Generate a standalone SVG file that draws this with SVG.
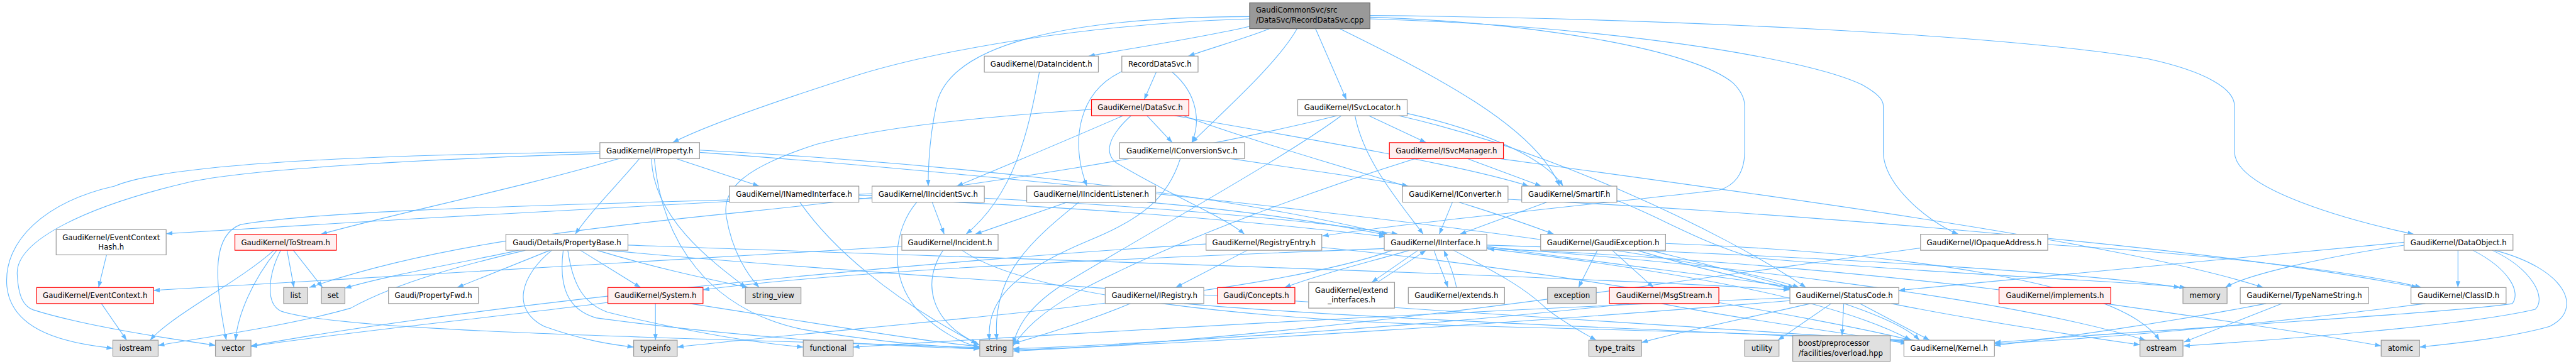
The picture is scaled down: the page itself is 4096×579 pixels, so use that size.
<svg xmlns="http://www.w3.org/2000/svg" width="4096" height="579" viewBox="0 0 4096 579">
<style>
rect{stroke-width:1.3}
.n rect{fill:#fff;stroke:#999}
.g rect{fill:#e0e0e0;stroke:#999}
.r rect{fill:#fff0f0;stroke:#f00}
.rt rect{fill:#999;stroke:#666}
text{font-family:"DejaVu Sans","Liberation Sans",sans-serif;font-size:12.9px;fill:#000;text-anchor:middle}
text.l{text-anchor:start}
#edges path{fill:none;stroke:#63b8ff;stroke-width:1.2;marker-end:url(#ah)}
</style>
<defs>
<marker id="ah" viewBox="0 0 11 8" refX="11" refY="4" markerWidth="11" markerHeight="8" orient="auto" markerUnits="userSpaceOnUse"><path d="M0,0L11,4L0,8z" fill="#63b8ff" stroke="none"/></marker>
</defs>
<rect width="4096" height="579" fill="#fff"/>
<g transform="scale(0.91103)">
<g id="edges">
<path d="M2181,46 C2100,65 1970,85 1900,98"/>
<path d="M2216,50 C2180,65 2110,85 2074,98"/>
<path d="M2264,50 C2230,110 2140,190 2080,249"/>
<path d="M2181,29 C1850,30 1660,80 1635,180 C1622,240 1620,290 1620,325"/>
<path d="M2181,33 C1900,42 1650,85 1500,130 C1350,178 1230,220 1174,249"/>
<path d="M2296,50 L2350,174"/>
<path d="M2338,50 C2500,130 2680,220 2722,325"/>
<path d="M2391,27 C2900,32 3500,60 3750,103 C3850,125 3900,155 3900,185 L3900,265 C3900,330 4100,385 4213,409"/>
<path d="M2391,33 C2800,45 3150,100 3250,148 C3280,165 3287,175 3287,185 L3287,265 C3287,320 3360,385 3418,409"/>
<path d="M2391,30 C2700,40 2960,90 3025,145 C3040,160 3045,175 3045,185 L3045,265 C3045,305 3025,325 3000,332 C2750,360 2450,390 2308,412"/>
<path d="M1814,126 C1795,230 1770,340 1686,409"/>
<path d="M2018,126 L1997,174"/>
<path d="M2046,126 C2092,165 2095,215 2080,249"/>
<path d="M1960,124 C1880,160 1868,250 1897,325"/>
<path d="M2002,202 L2046,249"/>
<path d="M1960,202 C1850,250 1730,300 1670,325"/>
<path d="M1974,202 C1932,240 1928,268 1948,284 C2040,340 2140,380 2172,409"/>
<path d="M2050,202 C2300,245 2560,290 2668,325"/>
<path d="M1905,191 C1700,205 1540,222 1425,252 C1300,292 1258,330 1268,380 C1278,440 1305,480 1325,502"/>
<path d="M2065,202 C2250,270 2560,350 2712,409"/>
<path d="M1180,277 L1325,325"/>
<path d="M1116,277 C1080,320 1030,370 1004,409"/>
<path d="M1080,277 C900,330 700,370 560,409"/>
<path d="M1137,277 C1140,380 1240,455 1302,502"/>
<path d="M1142,277 C1155,420 1235,540 1400,575 C1550,600 1650,606 1710,608"/>
<path d="M1047,265 C700,270 300,282 200,325 C80,352 5,420 12,500 C20,580 120,600 197,608"/>
<path d="M1047,268 C800,276 450,292 330,318 C150,360 28,420 30,478 C32,520 42,535 58,541 C150,570 300,592 376,603"/>
<path d="M1221,262 C1600,282 2100,330 2422,409"/>
<path d="M1221,266 C1700,300 2900,420 3140,502"/>
<path d="M478,437 C420,490 300,550 262,594"/>
<path d="M483,437 C440,490 415,550 411,594"/>
<path d="M501,437 L513,502"/>
<path d="M512,437 L563,502"/>
<path d="M490,437 C468,480 463,530 490,543 C600,582 1300,592 1710,607"/>
<path d="M186,445 L172,502"/>
<path d="M177,530 L221,594"/>
<path d="M1522,338 C1200,355 700,382 290,408"/>
<path d="M1522,341 C1100,356 600,362 420,392 C372,410 372,480 395,594"/>
<path d="M1627,353 L1648,409"/>
<path d="M1600,353 C1560,400 1550,480 1600,540 C1640,580 1680,600 1710,606"/>
<path d="M1718,346 C2000,360 2300,385 2440,409"/>
<path d="M1863,353 L1702,409"/>
<path d="M1883,353 C1800,420 1730,480 1740,594"/>
<path d="M2002,353 C2200,370 2330,392 2418,410"/>
<path d="M1574,430 C1200,450 600,490 268,507"/>
<path d="M1646,437 C1610,490 1620,560 1706,600"/>
<path d="M1679,437 C1800,520 2200,560 2600,570 C3000,580 3250,590 3340,594"/>
<path d="M2177,437 L2052,502"/>
<path d="M2105,426 C1700,450 900,520 438,604"/>
<path d="M2307,432 C2700,470 3200,560 3335,594"/>
<path d="M1973,530 C1900,560 1820,585 1768,600"/>
<path d="M2067,530 C2400,560 3100,582 3328,597"/>
<path d="M2148,277 C2300,300 2400,312 2458,325"/>
<path d="M2060,277 C2040,340 2000,380 1900,420 C1780,470 1720,520 1727,594"/>
<path d="M2334,202 C2100,260 1700,330 1300,370 C1000,400 750,430 540,502"/>
<path d="M2341,202 C2250,270 2050,380 1850,500 C1790,540 1775,575 1768,601"/>
<path d="M2365,202 C2380,280 2440,350 2484,409"/>
<path d="M2389,202 L2489,249"/>
<path d="M2456,198 C2600,230 2700,280 2728,325"/>
<path d="M2441,202 C2700,260 3000,400 3152,502"/>
<path d="M2470,277 C2300,330 2050,420 1880,510 C1810,550 1785,580 1768,604"/>
<path d="M2561,277 L2690,325"/>
<path d="M2618,277 C3000,330 3700,420 3950,502"/>
<path d="M2535,353 L2512,409"/>
<path d="M2632,348 C3000,365 3800,420 4220,502"/>
<path d="M2700,353 L2548,409"/>
<path d="M2822,350 C2900,380 2960,420 3060,450 C3400,480 3700,490 3815,502"/>
<path d="M2475,437 L2394,493"/>
<path d="M2404,493 L2489,437"/>
<path d="M2503,437 C2510,460 2520,480 2527,502"/>
<path d="M2542,502 C2538,480 2530,460 2520,437"/>
<path d="M2537,437 C2600,470 2660,500 2700,540 C2740,570 2770,585 2786,594"/>
<path d="M2460,437 C2380,460 2300,480 2242,502"/>
<path d="M2595,430 C2800,460 3000,482 3132,502"/>
<path d="M2595,434 C2900,470 3200,520 3335,594"/>
<path d="M2416,434 C2000,450 1500,470 1227,506"/>
<path d="M2430,437 C2200,520 1600,560 1182,606"/>
<path d="M2595,428 C3000,440 3600,470 3805,502"/>
<path d="M2595,432 C3000,460 3500,520 3745,594"/>
<path d="M3489,506 C3200,470 2800,440 2597,435"/>
<path d="M2788,437 L2755,502"/>
<path d="M2814,437 L2886,502"/>
<path d="M2857,437 C2950,465 3050,488 3124,504"/>
<path d="M2880,437 C3050,480 3300,540 3350,594"/>
<path d="M2907,425 C3300,440 3700,490 3769,594"/>
<path d="M2843,530 C2500,570 2000,600 1768,609"/>
<path d="M2900,530 C3050,560 3250,585 3328,600"/>
<path d="M3196,530 L3103,594"/>
<path d="M3218,530 L3215,586"/>
<path d="M3246,530 L3368,594"/>
<path d="M3301,530 C3450,560 3650,590 3735,602"/>
<path d="M3160,530 C3050,555 2930,580 2865,598"/>
<path d="M3124,525 C2700,560 2100,600 1768,611"/>
<path d="M3124,520 C2600,540 1900,580 1489,606"/>
<path d="M3674,530 C3850,555 4050,585 4156,604"/>
<path d="M3955,530 C3800,560 3600,590 3481,603"/>
<path d="M3983,530 L3812,597"/>
<path d="M4233,530 C4000,560 3700,590 3481,600"/>
<path d="M4290,437 L4290,502"/>
<path d="M4196,428 C4050,450 3920,480 3884,502"/>
<path d="M4316,437 C4380,470 4400,510 4385,530 C4300,545 3700,580 3481,598"/>
<path d="M4350,437 C4420,470 4445,520 4425,540 C4300,570 3950,595 3811,604"/>
<path d="M4354,437 C4480,470 4510,540 4450,570 C4380,590 4280,600 4223,606"/>
<path d="M4196,423 C3900,450 3500,490 3314,507"/>
<path d="M3574,427 C3800,440 4100,470 4226,502"/>
<path d="M3352,433 C3000,480 2300,590 1768,613"/>
<path d="M1061,528 C900,550 600,580 438,605"/>
<path d="M1144,530 L1144,594"/>
<path d="M1204,530 C1400,560 1600,595 1710,605"/>
<path d="M960,437 L798,502"/>
<path d="M1013,437 L1118,502"/>
<path d="M963,437 C910,480 890,540 950,570 C1020,595 1070,602 1106,606"/>
<path d="M1042,437 C1150,470 1250,490 1306,502"/>
<path d="M991,437 C1000,500 1020,530 1060,545 C1200,580 1330,600 1402,606"/>
<path d="M983,437 C975,500 990,540 1040,555 C1300,590 1550,605 1710,609"/>
<path d="M917,437 C820,460 700,490 612,538 C500,570 350,590 276,603"/>
<path d="M905,437 C800,460 680,480 602,503"/>
<path d="M1061,437 C1500,480 2800,560 3335,596"/>
<path d="M1096,428 C1700,450 2700,480 3124,506"/>
<path d="M1396,353 C1450,430 1550,520 1710,603"/>
<path d="M1498,346 C1900,360 2200,388 2418,413"/>
</g>
<g id="root" class="rt"><rect x="2181" y="5" width="210" height="45"/><text class="l" x="2192" y="22.5">GaudiCommonSvc/src</text><text class="l" x="2192" y="39.5">/DataSvc/RecordDataSvc.cpp</text></g>
<g id="DataIncident" class="n"><rect x="1718" y="98" width="199" height="28"/><text x="1817.5" y="116.6">GaudiKernel/DataIncident.h</text></g>
<g id="RecordDataSvcH" class="n"><rect x="1958" y="98" width="133" height="28"/><text x="2024.5" y="116.6">RecordDataSvc.h</text></g>
<g id="DataSvc" class="r"><rect x="1905" y="174" width="170" height="28"/><text x="1990" y="192.6">GaudiKernel/DataSvc.h</text></g>
<g id="ISvcLocator" class="n"><rect x="2265" y="174" width="191" height="28"/><text x="2360.5" y="192.6">GaudiKernel/ISvcLocator.h</text></g>
<g id="IProperty" class="n"><rect x="1047" y="249" width="174" height="28"/><text x="1134" y="267.6">GaudiKernel/IProperty.h</text></g>
<g id="IConversionSvc" class="n"><rect x="1954" y="249" width="218" height="28"/><text x="2063" y="267.6">GaudiKernel/IConversionSvc.h</text></g>
<g id="ISvcManager" class="r"><rect x="2425" y="249" width="199" height="28"/><text x="2524.5" y="267.6">GaudiKernel/ISvcManager.h</text></g>
<g id="INamedInterface" class="n"><rect x="1273" y="325" width="226" height="28"/><text x="1386" y="343.6">GaudiKernel/INamedInterface.h</text></g>
<g id="IIncidentSvc" class="n"><rect x="1522" y="325" width="196" height="28"/><text x="1620" y="343.6">GaudiKernel/IIncidentSvc.h</text></g>
<g id="IIncidentListener" class="n"><rect x="1792" y="325" width="225" height="28"/><text x="1904.5" y="343.6">GaudiKernel/IIncidentListener.h</text></g>
<g id="IConverter" class="n"><rect x="2448" y="325" width="184" height="28"/><text x="2540" y="343.6">GaudiKernel/IConverter.h</text></g>
<g id="SmartIF" class="n"><rect x="2656" y="325" width="166" height="28"/><text x="2739" y="343.6">GaudiKernel/SmartIF.h</text></g>
<g id="EventContextHash" class="n"><rect x="98" y="401" width="192" height="44"/><text x="194" y="419">GaudiKernel/EventContext</text><text x="194" y="436">Hash.h</text></g>
<g id="ToStream" class="r"><rect x="410" y="409" width="177" height="28"/><text x="498.5" y="427.6">GaudiKernel/ToStream.h</text></g>
<g id="PropertyBase" class="n"><rect x="883" y="409" width="213" height="28"/><text x="989.5" y="427.6">Gaudi/Details/PropertyBase.h</text></g>
<g id="Incident" class="n"><rect x="1574" y="409" width="168" height="28"/><text x="1658" y="427.6">GaudiKernel/Incident.h</text></g>
<g id="RegistryEntry" class="n"><rect x="2105" y="409" width="202" height="28"/><text x="2206" y="427.6">GaudiKernel/RegistryEntry.h</text></g>
<g id="IInterface" class="n"><rect x="2416" y="409" width="179" height="28"/><text x="2505.5" y="427.6">GaudiKernel/IInterface.h</text></g>
<g id="GaudiException" class="n"><rect x="2689" y="409" width="218" height="28"/><text x="2798" y="427.6">GaudiKernel/GaudiException.h</text></g>
<g id="IOpaqueAddress" class="n"><rect x="3352" y="409" width="222" height="28"/><text x="3463" y="427.6">GaudiKernel/IOpaqueAddress.h</text></g>
<g id="DataObject" class="n"><rect x="4196" y="409" width="190" height="28"/><text x="4291" y="427.6">GaudiKernel/DataObject.h</text></g>
<g id="EventContext" class="r"><rect x="64" y="502" width="204" height="28"/><text x="166" y="520.6">GaudiKernel/EventContext.h</text></g>
<g id="list" class="g"><rect x="495" y="502" width="42" height="28"/><text x="516" y="520.6">list</text></g>
<g id="set" class="g"><rect x="561" y="502" width="41" height="28"/><text x="581.5" y="520.6">set</text></g>
<g id="PropertyFwd" class="n"><rect x="678" y="502" width="157" height="28"/><text x="756.5" y="520.6">Gaudi/PropertyFwd.h</text></g>
<g id="System" class="r"><rect x="1061" y="502" width="166" height="28"/><text x="1144" y="520.6">GaudiKernel/System.h</text></g>
<g id="string_view" class="g"><rect x="1301" y="502" width="97" height="28"/><text x="1349.5" y="520.6">string_view</text></g>
<g id="IRegistry" class="n"><rect x="1929" y="502" width="172" height="28"/><text x="2015" y="520.6">GaudiKernel/IRegistry.h</text></g>
<g id="Concepts" class="r"><rect x="2125" y="502" width="135" height="28"/><text x="2192.5" y="520.6">Gaudi/Concepts.h</text></g>
<g id="extend_interfaces" class="n"><rect x="2284" y="493" width="150" height="45"/><text x="2359" y="511">GaudiKernel/extend</text><text x="2359" y="528">_interfaces.h</text></g>
<g id="extends" class="n"><rect x="2458" y="502" width="168" height="28"/><text x="2542" y="520.6">GaudiKernel/extends.h</text></g>
<g id="exception" class="g"><rect x="2701" y="502" width="85" height="28"/><text x="2743.5" y="520.6">exception</text></g>
<g id="MsgStream" class="r"><rect x="2809" y="502" width="191" height="28"/><text x="2904.5" y="520.6">GaudiKernel/MsgStream.h</text></g>
<g id="StatusCode" class="n"><rect x="3124" y="502" width="190" height="28"/><text x="3219" y="520.6">GaudiKernel/StatusCode.h</text></g>
<g id="implements" class="r"><rect x="3489" y="502" width="195" height="28"/><text x="3586.5" y="520.6">GaudiKernel/implements.h</text></g>
<g id="memory" class="g"><rect x="3810" y="502" width="77" height="28"/><text x="3848.5" y="520.6">memory</text></g>
<g id="TypeNameString" class="n"><rect x="3910" y="502" width="224" height="28"/><text x="4022" y="520.6">GaudiKernel/TypeNameString.h</text></g>
<g id="ClassID" class="n"><rect x="4208" y="502" width="166" height="28"/><text x="4291" y="520.6">GaudiKernel/ClassID.h</text></g>
<g id="iostream" class="g"><rect x="197" y="594" width="79" height="28"/><text x="236.5" y="612.6">iostream</text></g>
<g id="vector" class="g"><rect x="376" y="594" width="62" height="28"/><text x="407" y="612.6">vector</text></g>
<g id="typeinfo" class="g"><rect x="1106" y="594" width="76" height="28"/><text x="1144" y="612.6">typeinfo</text></g>
<g id="functional" class="g"><rect x="1402" y="594" width="87" height="28"/><text x="1445.5" y="612.6">functional</text></g>
<g id="string" class="g"><rect x="1710" y="594" width="58" height="28"/><text x="1739" y="612.6">string</text></g>
<g id="type_traits" class="g"><rect x="2773" y="594" width="92" height="28"/><text x="2819" y="612.6">type_traits</text></g>
<g id="utility" class="g"><rect x="3045" y="594" width="60" height="28"/><text x="3075" y="612.6">utility</text></g>
<g id="boost" class="g"><rect x="3129" y="586" width="170" height="45"/><text class="l" x="3139" y="604">boost/preprocessor</text><text class="l" x="3139" y="621">/facilities/overload.hpp</text></g>
<g id="Kernel" class="n"><rect x="3323" y="594" width="158" height="28"/><text x="3402" y="612.6">GaudiKernel/Kernel.h</text></g>
<g id="ostream" class="g"><rect x="3735" y="594" width="75" height="28"/><text x="3772.5" y="612.6">ostream</text></g>
<g id="atomic" class="g"><rect x="4156" y="594" width="67" height="28"/><text x="4189.5" y="612.6">atomic</text></g>
</g>
</svg>
